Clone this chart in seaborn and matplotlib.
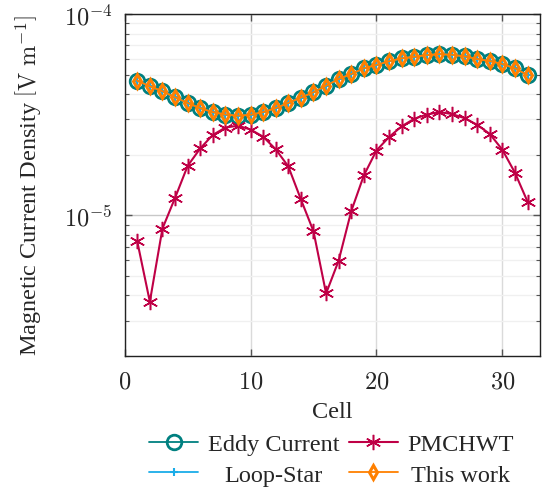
import numpy as np
import pandas as pd
import matplotlib
matplotlib.use("Agg")
import matplotlib.pyplot as plt
from matplotlib.ticker import FuncFormatter, NullFormatter, LogLocator, FixedLocator
import seaborn as sns

# ---- data ----
cells = list(range(1, 33))
eddy_current = [4.67e-5, 4.38e-5, 4.14e-5, 3.86e-5, 3.62e-5, 3.41e-5, 3.26e-5, 3.17e-5,
                3.13e-5, 3.16e-5, 3.26e-5, 3.41e-5, 3.62e-5, 3.85e-5, 4.09e-5, 4.41e-5,
                4.76e-5, 5.04e-5, 5.38e-5, 5.59e-5, 5.83e-5, 6.03e-5, 6.14e-5, 6.26e-5,
                6.33e-5, 6.28e-5, 6.17e-5, 5.98e-5, 5.85e-5, 5.65e-5, 5.38e-5, 4.98e-5]
pmchwt = [7.43e-6, 3.72e-6, 8.59e-6, 1.22e-5, 1.76e-5, 2.15e-5, 2.51e-5, 2.73e-5,
          2.79e-5, 2.67e-5, 2.46e-5, 2.13e-5, 1.75e-5, 1.20e-5, 8.33e-6, 4.09e-6,
          5.96e-6, 1.05e-5, 1.58e-5, 2.10e-5, 2.45e-5, 2.77e-5, 3.02e-5, 3.17e-5,
          3.26e-5, 3.19e-5, 3.04e-5, 2.82e-5, 2.54e-5, 2.12e-5, 1.63e-5, 1.17e-5]
loop_star = list(eddy_current)
this_work = list(eddy_current)
series_labels = ["Eddy Current", "PMCHWT", "Loop-Star", "This work"]
x_ticks = [0, 10, 20, 30]

# ---- style ----
sns.set_style("ticks")
plt.rcParams["font.family"] = ["Liberation Serif", "DejaVu Serif"]
plt.rcParams["mathtext.fontset"] = "cm"
plt.rcParams["font.size"] = 17

fig = plt.figure(figsize=(5.42, 4.89), dpi=100)
ax = fig.add_axes([0.230, 0.270, 0.9965 - 0.230, 0.969 - 0.270])

c_teal = "#008080"
c_red = "#BF0046"
c_cyan = "#1AACE8"
c_orange = "#FF8000"

sns.lineplot(x=cells, y=eddy_current, ax=ax, color=c_teal, lw=1.3,
             marker="o", markersize=10.5, markerfacecolor="none",
             markeredgecolor=c_teal, markeredgewidth=2.0, label=series_labels[0], zorder=3)
sns.lineplot(x=cells, y=pmchwt, ax=ax, color=c_red, lw=1.5,
             marker=(6, 2, 0), markersize=11, markeredgecolor=c_red,
             markeredgewidth=1.1, label=series_labels[1], zorder=3)
sns.lineplot(x=cells, y=loop_star, ax=ax, color=c_cyan, lw=1.3,
             marker="+", markersize=6, markeredgecolor=c_cyan,
             markeredgewidth=1.5, label=series_labels[2], zorder=4)
sns.lineplot(x=cells, y=this_work, ax=ax, color=c_orange, lw=1.3,
             marker="d", markersize=7.5, markerfacecolor="none",
             markeredgecolor=c_orange, markeredgewidth=2.2, label=series_labels[3], zorder=5)

ax.set_yscale("log")
ax.set_xlim(0, 33)
ax.set_ylim(2e-6, 1e-4)

ax.xaxis.set_major_locator(FixedLocator(x_ticks))
ax.xaxis.set_major_formatter(FuncFormatter(lambda v, p: r"$%d$" % int(round(v))))
ax.yaxis.set_major_locator(LogLocator(base=10, numticks=10))
ax.yaxis.set_minor_locator(LogLocator(base=10, subs=np.arange(2, 10), numticks=20))
ax.yaxis.set_major_formatter(FuncFormatter(lambda v, p: r"$10^{%d}$" % int(round(np.log10(v)))))
ax.yaxis.set_minor_formatter(NullFormatter())

ax.grid(True, which="major", axis="x", color="#DADADA", lw=1.0)
ax.grid(True, which="major", axis="y", color="#C8C8C8", lw=1.0)
ax.grid(True, which="minor", axis="y", color="#F0F0F0", lw=1.0)
ax.set_axisbelow(True)

ax.tick_params(which="both", direction="in", top=True, right=True, color="#555555",
               labelsize=17.5)
ax.tick_params(which="major", length=5, width=1.0)
ax.tick_params(which="minor", length=3, width=0.8)
ax.tick_params(axis="x", which="major", pad=11)
ax.tick_params(axis="y", which="major", pad=9)
for s in ax.spines.values():
    s.set_color("#222222")
    s.set_linewidth(1.0)

ax.set_xlabel("Cell", fontsize=17.5, labelpad=6)
ax.set_ylabel(r"Magnetic Current Density $\left[\mathrm{V\ m}^{-1}\right]$",
              fontsize=17.5, labelpad=14)

handles, labels = ax.get_legend_handles_labels()
order = [0, 2, 1, 3]
leg = ax.legend([handles[i] for i in order], [labels[i] for i in order],
                loc="center", bbox_to_anchor=(0.612, 0.058), bbox_transform=fig.transFigure,
                ncol=2, frameon=False, fontsize=17.5, handlelength=2.0, columnspacing=0.4,
                handletextpad=0.4, labelspacing=0.35, borderpad=0.1)

# centre legend labels within their column (as in the original figure)
fig.canvas.draw()
renderer = fig.canvas.get_renderer()
texts = leg.get_texts()
widths = [t.get_window_extent(renderer).width for t in texts]
for col in [(0, 1), (2, 3)]:
    wmax = max(widths[i] for i in col)
    for i in col:
        texts[i].set_x((wmax - widths[i]) / 2.0)

fig.savefig("out.png", dpi=100)
